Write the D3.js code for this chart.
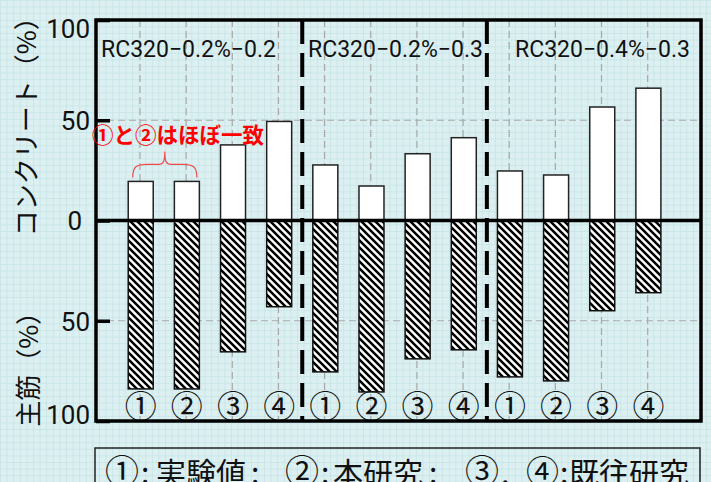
<!DOCTYPE html>
<html>
<head>
<meta charset="utf-8">
<script src="https://cdn.jsdelivr.net/npm/d3@7"></script>
<style>
  body { margin: 0; background: #dbeff1; }
  svg { display: block; }
</style>
</head>
<body>
<div id="chart"></div>
<script>
var svgWidth = 711;
var svgHeight = 482;

// data
var groups = ["RC320\u22120.2%\u22120.2", "RC320\u22120.2%\u22120.3", "RC320\u22120.4%\u22120.3"];
var caseLabels = ["\u2460", "\u2461", "\u2462", "\u2463"];
var concrete = [19.5, 19.5, 37.7, 49.4, 27.7, 17.2, 33.3, 41.3, 24.7, 22.7, 56.6, 66];
var rebar = [84, 84, 65.5, 43, 75.5, 85.5, 69, 64.5, 78, 80, 45, 36];
var yTicks = [100, 50, 0, -50, -100];

var plot = { left: 96, right: 701, top: 20, bottom: 421 };

var svg = d3.select("#chart")
  .append("svg")
  .attr("width", svgWidth)
  .attr("height", svgHeight);

var defs = svg.append("defs");

// graph paper background
var grid = defs.append("pattern")
  .attr("id", "paper")
  .attr("patternUnits", "userSpaceOnUse")
  .attr("width", 6.6)
  .attr("height", 6.6);
grid.append("rect").attr("width", 6.6).attr("height", 6.6).attr("fill", "#dcf0f2");
grid.append("path")
  .attr("d", "M0,0.3 H6.6 M0.3,0 V6.6")
  .attr("stroke", "#c3e1e4")
  .attr("stroke-width", 0.8);

// hatch for rebar bars
var hatch = defs.append("pattern")
  .attr("id", "hatch")
  .attr("patternUnits", "userSpaceOnUse")
  .attr("width", 7)
  .attr("height", 7);
hatch.append("rect").attr("width", 7).attr("height", 7).attr("fill", "#fff");
hatch.append("path")
  .attr("d", "M0,0 L7,7 M-2,5 L2,9 M5,-2 L9,2")
  .attr("stroke", "#000")
  .attr("stroke-width", 2.5);

svg.append("rect")
  .attr("width", svgWidth)
  .attr("height", svgHeight)
  .attr("fill", "url(#paper)");

var x = d3.scaleLinear()
  .domain([-0.969, 12.14])
  .range([plot.left, plot.right]);

var y = d3.scaleLinear()
  .domain([-100, 100])
  .range([plot.bottom, plot.top]);

var idx = d3.range(concrete.length);
var barW = 25;

// gray dashed grid
svg.append("g").selectAll("line")
  .data(idx).enter()
  .append("line")
  .attr("x1", d => x(d) - 0.7)
  .attr("x2", d => x(d) - 0.7)
  .attr("y1", plot.top)
  .attr("y2", plot.bottom)
  .attr("stroke", "#a9a9a9")
  .attr("stroke-width", 1.2)
  .attr("stroke-dasharray", "7,4");

svg.append("g").selectAll("line")
  .data([50, -50]).enter()
  .append("line")
  .attr("x1", plot.left)
  .attr("x2", plot.right)
  .attr("y1", d => y(d))
  .attr("y2", d => y(d))
  .attr("stroke", "#a9a9a9")
  .attr("stroke-width", 1.2)
  .attr("stroke-dasharray", "7,4");

// concrete bars (up)
svg.append("g").selectAll("rect")
  .data(concrete).enter()
  .append("rect")
  .attr("x", (d, i) => x(i) - barW / 2)
  .attr("y", d => y(d))
  .attr("width", barW)
  .attr("height", d => y(0) - y(d))
  .attr("fill", "#fff")
  .attr("stroke", "#222")
  .attr("stroke-width", 1.5);

// rebar bars (down)
svg.append("g").selectAll("rect")
  .data(rebar).enter()
  .append("rect")
  .attr("x", (d, i) => x(i) - barW / 2)
  .attr("y", y(0))
  .attr("width", barW)
  .attr("height", d => y(-d) - y(0))
  .attr("fill", "url(#hatch)")
  .attr("stroke", "#111")
  .attr("stroke-width", 1.5);

// case numbers under each bar
svg.append("g").selectAll("text")
  .data(idx).enter()
  .append("text")
  .attr("x", d => x(d))
  .attr("y", y(-93))
  .attr("dy", "0.36em")
  .attr("text-anchor", "middle")
  .style("font-family", "'Noto Sans CJK JP', sans-serif")
  .style("font-size", "32px")
  .attr("fill", "#111")
  .text(d => caseLabels[d % 4]);

// group separators
svg.append("g").selectAll("line")
  .data([3.5, 7.5]).enter()
  .append("line")
  .attr("x1", d => x(d))
  .attr("x2", d => x(d))
  .attr("y1", plot.top)
  .attr("y2", plot.bottom)
  .attr("stroke", "#000")
  .attr("stroke-width", 4)
  .attr("stroke-dasharray", "24,9");

// group titles
var titleX = [101, 308, 515];
svg.append("g").selectAll("text")
  .data(groups).enter()
  .append("text")
  .attr("x", (d, i) => titleX[i])
  .attr("y", 57)
  .style("font-family", "Roboto, sans-serif")
  .style("font-size", "23px")
  .attr("fill", "#111")
  .text(d => d);

// zero line
svg.append("line")
  .attr("x1", plot.left)
  .attr("x2", plot.right)
  .attr("y1", y(0))
  .attr("y2", y(0))
  .attr("stroke", "#000")
  .attr("stroke-width", 3.5);

// frame
svg.append("rect")
  .attr("x", plot.left)
  .attr("y", plot.top)
  .attr("width", plot.right - plot.left)
  .attr("height", plot.bottom - plot.top)
  .attr("fill", "none")
  .attr("stroke", "#000")
  .attr("stroke-width", 3.5);

// left axis with inward ticks
var leftAxis = d3.axisLeft(y)
  .tickValues(yTicks)
  .tickSize(-14)
  .tickFormat(d => Math.abs(d));

var yAxis = svg.append("g")
  .attr("transform", `translate(${plot.left}, 0)`)
  .call(leftAxis);

yAxis.select(".domain").remove();
yAxis.selectAll(".tick line")
  .attr("stroke", "#000")
  .attr("stroke-width", 3.5);
yAxis.selectAll(".tick text")
  .style("font-family", "Roboto, sans-serif")
  .style("font-size", "26px")
  .attr("fill", "#111")
  .attr("x", d => d === 0 ? -14 : -6)
  .attr("dy", d => d === 100 ? "0.68em" : (d === -100 ? "0.1em" : "0.36em"));

// axis titles
svg.append("text")
  .attr("transform", `translate(36, ${y(50)}) rotate(-90)`)
  .attr("text-anchor", "middle")
  .style("font-family", "'Noto Sans CJK JP', sans-serif")
  .style("font-size", "26px")
  .attr("fill", "#111")
  .text("コンクリート（%）");

svg.append("text")
  .attr("transform", `translate(38, ${y(-71)}) rotate(-90)`)
  .attr("text-anchor", "middle")
  .style("font-family", "'Noto Sans CJK JP', sans-serif")
  .style("font-size", "26px")
  .attr("fill", "#111")
  .text("主筋（%）");

// annotation
svg.append("text")
  .attr("x", 92)
  .attr("y", 143)
  .style("font-family", "'Noto Sans CJK JP', sans-serif")
  .style("font-size", "21.5px")
  .style("font-weight", "bold")
  .attr("fill", "#ff0000")
  .text("①と②はほぼ一致");

var bx0 = x(0) - 8, bx1 = x(1) + 10, bm = (bx0 + bx1) / 2;
var by = y(concrete[0]) - 4, bt = by - 13;
svg.append("path")
  .attr("d", `M${bx0},${by} C${bx0},${bt + 2} ${bx0 + 4},${bt} ${bx0 + 14},${bt}
    L${bm - 6},${bt} C${bm - 2},${bt} ${bm},${bt - 2} ${bm},${bt - 13}
    C${bm},${bt - 2} ${bm + 2},${bt} ${bm + 6},${bt}
    L${bx1 - 14},${bt} C${bx1 - 4},${bt} ${bx1},${bt + 2} ${bx1},${by}`)
  .attr("fill", "none")
  .attr("stroke", "#f04a4a")
  .attr("stroke-width", 1.2);

// legend box
svg.append("rect")
  .attr("x", 95)
  .attr("y", 448)
  .attr("width", 605)
  .attr("height", 60)
  .attr("fill", "none")
  .attr("stroke", "#222")
  .attr("stroke-width", 1.5);

var legendParts = [
  ["①", 105, 34], [":", 141, 30], ["実験値", 156, 30], [":", 251, 30],
  ["②", 285, 34], [":", 321, 30], ["本研究", 333, 30], [":", 429, 30],
  ["③", 465, 34], [",", 501, 30], ["④", 526, 33], [":", 560, 30], ["既往研究", 569, 30]
];
svg.append("g").selectAll("text")
  .data(legendParts).enter()
  .append("text")
  .attr("x", d => d[1])
  .attr("y", 484)
  .style("font-family", "'Noto Sans CJK JP', sans-serif")
  .style("font-size", d => d[2] + "px")
  .attr("fill", "#111")
  .text(d => d[0]);
</script>
</body>
</html>
